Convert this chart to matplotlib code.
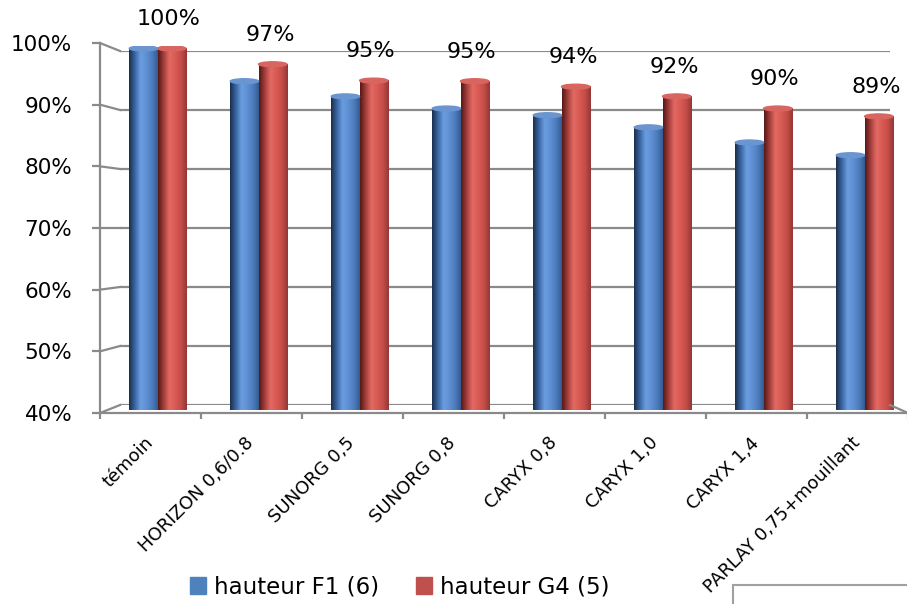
import numpy as np
import matplotlib.pyplot as plt
from matplotlib.colors import LinearSegmentedColormap
from matplotlib.patches import Ellipse, Rectangle, Patch
from matplotlib.lines import Line2D

# values (in %)
categories = ['témoin', 'HORIZON 0,6/0.8', 'SUNORG 0,5', 'SUNORG 0,8',
              'CARYX 0,8', 'CARYX 1,0', 'CARYX 1,4', 'PARLAY 0,75+mouillant']
hauteur_f1 = [100.0, 94.6, 92.1, 90.1, 89.0, 87.0, 84.5, 82.4]
hauteur_g4 = [100.0, 97.4, 94.7, 94.6, 93.7, 92.1, 90.1, 88.8]
yticks = [40, 50, 60, 70, 80, 90, 100]

W, H = 907, 604
GRID = '#8a8a8a'

fig = plt.figure(figsize=(W / 100, H / 100), dpi=100)


def px_axes(x0, x1, ytop, ybot):
    # axes placed by pixel box
    return fig.add_axes([x0 / W, 1 - ybot / H, (x1 - x0) / W, (ybot - ytop) / H])


# back wall (gridlines), front axis, and bars sit in three overlaid axes
back = px_axes(120, 890, 51, 405)
front = px_axes(100, 908, 43, 413)
bars = px_axes(100, 908, 46, 410)

back.set_xlim(0, 1)
back.set_ylim(40, 100)
back.axis('off')
for v in yticks:
    back.axhline(v, color=GRID, lw=1.6)

front.set_facecolor('none')
front.set_xlim(0, 8)
front.set_ylim(40, 100)
for s in ['top', 'right']:
    front.spines[s].set_visible(False)
for s in ['left', 'bottom']:
    front.spines[s].set_color(GRID)
    front.spines[s].set_linewidth(1.6)
front.set_yticks(yticks)
front.set_yticklabels([f'{v}%' for v in yticks], fontsize=15.5)
front.tick_params(axis='y', length=6, width=1.6, color=GRID, pad=14)
front.set_xticks(range(9))
front.set_xticklabels([])
front.tick_params(axis='x', which='major', length=4, width=1.6, color=GRID)
front.set_xticks(np.arange(8) + 0.56, minor=True)
front.set_xticklabels(categories, minor=True, rotation=45, ha='right',
                      va='top', fontsize=13)
front.tick_params(axis='x', which='minor', length=0, pad=15)

# side wall / floor connectors between front axis and back wall
to_fig = fig.transFigure.inverted()


def connect(a, pa, b, pb):
    p1 = to_fig.transform(a.transData.transform(pa))
    p2 = to_fig.transform(b.transData.transform(pb))
    fig.add_artist(Line2D([p1[0], p2[0]], [p1[1], p2[1]], color=GRID, lw=1.6))


for v in yticks:
    connect(front, (0, v), back, (0, v))
connect(back, (1, 40), front, (8, 40))

# cylinder shading
blue_cm = LinearSegmentedColormap.from_list(
    'b', ['#1a2f4d', '#3a66a2', '#6a9de0', '#5f90d4', '#4d7cbd', '#345c92'])
red_cm = LinearSegmentedColormap.from_list(
    'r', ['#561918', '#a63f3c', '#e36a64', '#d85a53', '#c54d49', '#943835'])
grad = np.linspace(0, 1, 80)[None, :]

bars.set_facecolor('none')
bars.axis('off')
w = 0.28
cap = 0.8
for i in range(len(categories)):
    for x0, v, cm, top in [(i + 0.29, hauteur_f1[i], blue_cm, '#6a95cf'),
                           (i + 0.29 + w, hauteur_g4[i], red_cm, '#d96561')]:
        bars.imshow(grad, extent=[x0, x0 + w, 40, v - cap / 2], aspect='auto',
                    cmap=cm, zorder=2, interpolation='bilinear')
        bars.add_patch(Ellipse((x0 + w / 2, v - cap / 2), w, cap, color=top,
                               zorder=3))
    bars.annotate(f'{round(hauteur_g4[i])}%', (i + 0.29 + 1.5 * w, hauteur_g4[i]),
                  xytext=(-2, 15), textcoords='offset points', ha='center',
                  va='baseline', fontsize=16)
bars.set_xlim(0, 8)
bars.set_ylim(40, 100)

handles = [Patch(color='#4f81bd', label='hauteur F1 (6)'),
           Patch(color='#c0504d', label='hauteur G4 (5)')]
fig.legend(handles=handles, loc='center', bbox_to_anchor=(400 / W, 1 - 587 / H),
           ncol=2, frameon=False, fontsize=16.5, handlelength=0.7,
           handleheight=0.7, handletextpad=0.35, columnspacing=1.6)

# stray box in the lower right corner
fig.add_artist(Rectangle((733 / W, -0.1), 0.3, 0.1 + 1 - 585 / H,
                         transform=fig.transFigure, fill=False,
                         edgecolor='#a0a0a0', lw=1.5))

fig.savefig('out.png', dpi=100)
